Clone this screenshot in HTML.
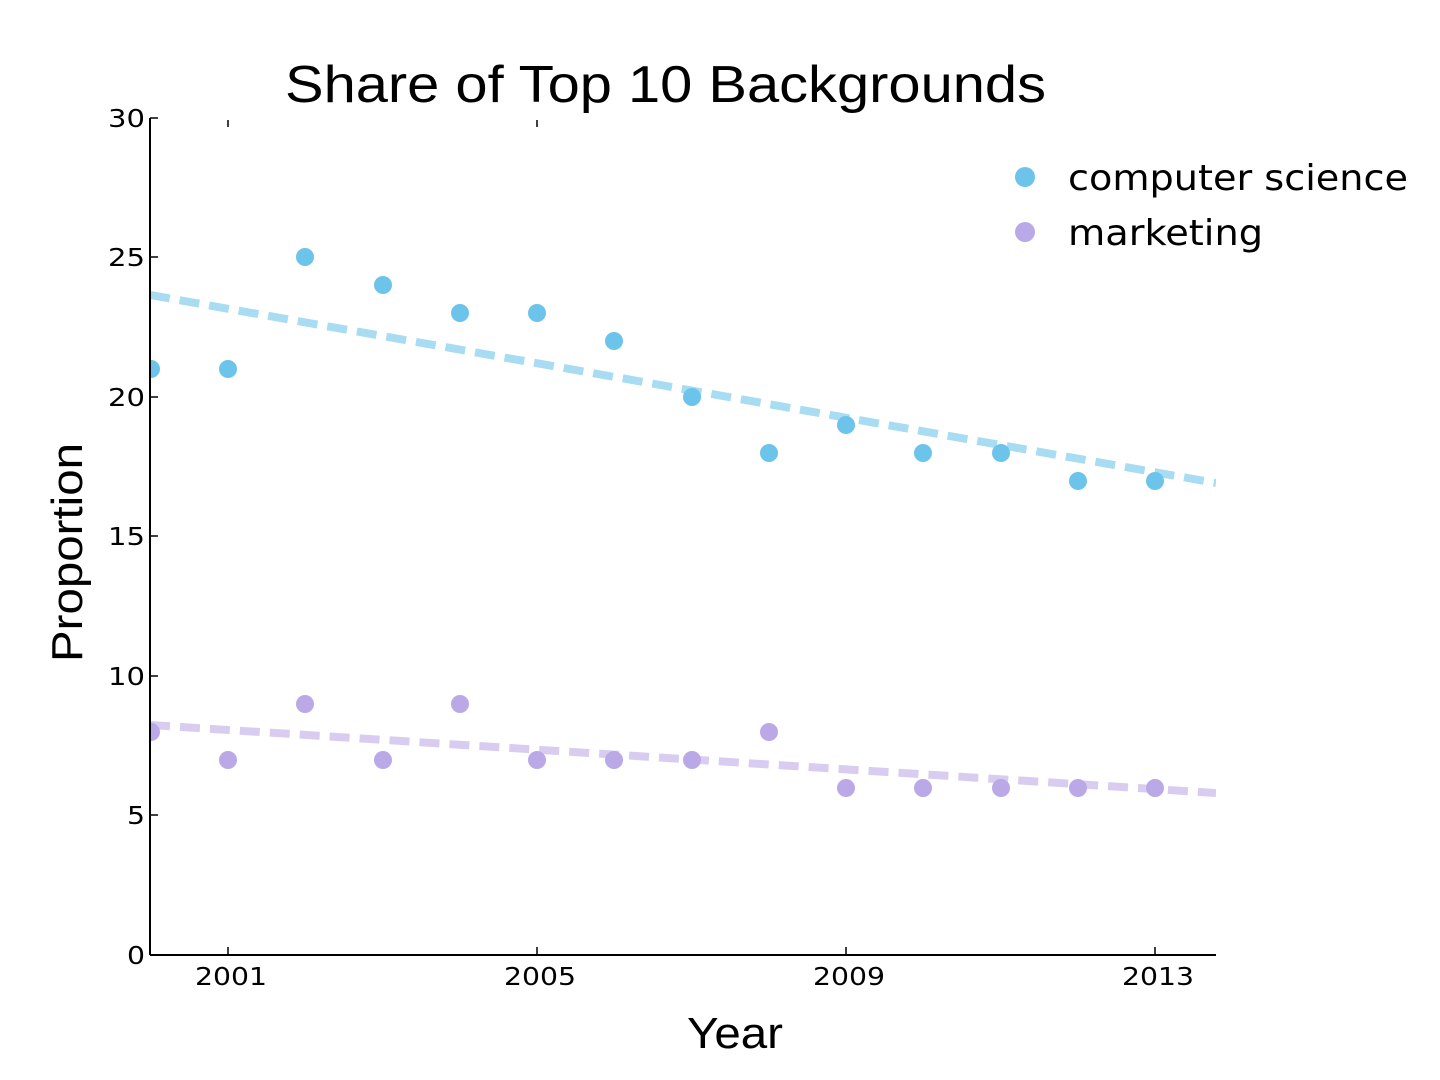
<!DOCTYPE html>
<html><head><meta charset="utf-8"><style>
html,body{margin:0;padding:0;background:#fff;}
svg{display:block;font-family:"DejaVu Sans","Liberation Sans",sans-serif;}
</style></head><body>
<svg width="1440" height="1080" viewBox="0 0 1440 1080">
<defs><clipPath id="ax"><rect x="150" y="118" width="1066" height="837"/></clipPath></defs>
<rect width="1440" height="1080" fill="#fff"/>
<text x="285" y="102" font-size="52" textLength="761" lengthAdjust="spacingAndGlyphs" font-family="Liberation Sans, sans-serif" fill="#000">Share of Top 10 Backgrounds</text>
<g clip-path="url(#ax)">
<line x1="150" y1="295" x2="1216" y2="483" stroke="#a8dcf2" stroke-width="8" stroke-dasharray="20,10"/>
<line x1="150" y1="725" x2="1216" y2="793" stroke="#d8cdf0" stroke-width="8" stroke-dasharray="20,10"/>
<g fill="#6cc4ea">
<circle cx="151" cy="369" r="9"/><circle cx="228" cy="369" r="9"/><circle cx="305" cy="257" r="9"/>
<circle cx="383" cy="285" r="9"/><circle cx="460" cy="313" r="9"/><circle cx="537" cy="313" r="9"/>
<circle cx="614" cy="341" r="9"/><circle cx="692" cy="397" r="9"/><circle cx="769" cy="453" r="9"/>
<circle cx="846" cy="425" r="9"/><circle cx="923" cy="453" r="9"/><circle cx="1001" cy="453" r="9"/>
<circle cx="1078" cy="481" r="9"/><circle cx="1155" cy="481" r="9"/>
</g>
<g fill="#bba8e6">
<circle cx="151" cy="732" r="9"/><circle cx="228" cy="760" r="9"/><circle cx="305" cy="704" r="9"/>
<circle cx="383" cy="760" r="9"/><circle cx="460" cy="704" r="9"/><circle cx="537" cy="760" r="9"/>
<circle cx="614" cy="760" r="9"/><circle cx="692" cy="760" r="9"/><circle cx="769" cy="732" r="9"/>
<circle cx="846" cy="788" r="9"/><circle cx="923" cy="788" r="9"/><circle cx="1001" cy="788" r="9"/>
<circle cx="1078" cy="788" r="9"/><circle cx="1155" cy="788" r="9"/>
</g>
</g>
<line x1="150" y1="118" x2="150" y2="955" stroke="#000" stroke-width="2"/>
<line x1="150" y1="955" x2="1216" y2="955" stroke="#000" stroke-width="2"/>
<g stroke="#000" stroke-width="1.5">
<line x1="228" y1="955" x2="228" y2="947"/><line x1="537" y1="955" x2="537" y2="947"/>
<line x1="846" y1="955" x2="846" y2="947"/><line x1="1155" y1="955" x2="1155" y2="947"/>
<line x1="228" y1="120" x2="228" y2="127"/><line x1="537" y1="120" x2="537" y2="127"/>
<line x1="150" y1="118" x2="158" y2="118"/><line x1="150" y1="257" x2="158" y2="257"/>
<line x1="150" y1="397" x2="158" y2="397"/><line x1="150" y1="536" x2="158" y2="536"/>
<line x1="150" y1="676" x2="158" y2="676"/><line x1="150" y1="815" x2="158" y2="815"/>
</g>
<g font-size="25" fill="#000">
<text x="108" y="127" textLength="37" lengthAdjust="spacingAndGlyphs">30</text>
<text x="108" y="266" textLength="37" lengthAdjust="spacingAndGlyphs">25</text>
<text x="108" y="406" textLength="37" lengthAdjust="spacingAndGlyphs">20</text>
<text x="108" y="545" textLength="37" lengthAdjust="spacingAndGlyphs">15</text>
<text x="108" y="685" textLength="37" lengthAdjust="spacingAndGlyphs">10</text>
<text x="127" y="824" textLength="18" lengthAdjust="spacingAndGlyphs">5</text>
<text x="127" y="964" textLength="18" lengthAdjust="spacingAndGlyphs">0</text>
</g>
<g font-size="25" fill="#000">
<text x="195" y="985" textLength="72" lengthAdjust="spacingAndGlyphs">2001</text>
<text x="504" y="985" textLength="72" lengthAdjust="spacingAndGlyphs">2005</text>
<text x="813" y="985" textLength="72" lengthAdjust="spacingAndGlyphs">2009</text>
<text x="1122" y="985" textLength="72" lengthAdjust="spacingAndGlyphs">2013</text>
</g>
<text x="687" y="1048" font-size="44" textLength="96" lengthAdjust="spacingAndGlyphs" font-family="Liberation Sans, sans-serif">Year</text>
<text transform="translate(82,662) rotate(-90)" font-size="44" textLength="219" lengthAdjust="spacingAndGlyphs" font-family="Liberation Sans, sans-serif">Proportion</text>
<circle cx="1025" cy="177" r="10" fill="#6cc4ea"/>
<circle cx="1025" cy="232" r="10" fill="#bba8e6"/>
<text x="1068" y="190" font-size="36" textLength="340" lengthAdjust="spacingAndGlyphs" fill="#000">computer science</text>
<text x="1068" y="245" font-size="36" textLength="195" lengthAdjust="spacingAndGlyphs" fill="#000">marketing</text>
</svg>
</body></html>
